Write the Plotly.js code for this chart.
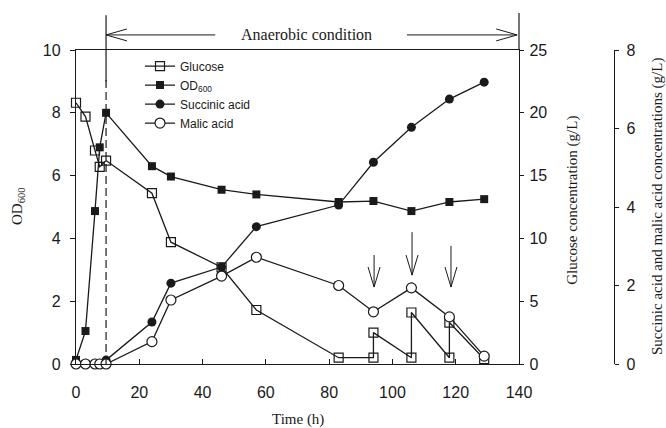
<!DOCTYPE html>
<html><head><meta charset="utf-8">
<script src="https://cdn.plot.ly/plotly-3.0.1.min.js"></script>
<style>body{margin:0;background:#fff}</style>
</head><body><div id="chart" style="width:666px;height:428px"></div>
<script>
// ---- data ----
const glucoseTime = [0, 3, 6, 7.5, 9.5, 24, 30, 46, 57, 83, 94, 94, 106, 106, 118, 118, 129];
const glucoseConc = [20.8, 19.7, 17.0, 15.7, 16.2, 13.6, 9.7, 7.7, 4.3, 0.5, 0.5, 2.5, 0.5, 4.1, 0.5, 3.3, 0.4];
const odTime = [0, 3, 6, 7.5, 9.5, 24, 30, 46, 57, 83, 94, 106, 118, 129];
const odValue = [0.13, 1.05, 4.87, 6.9, 8.0, 6.3, 5.97, 5.55, 5.4, 5.16, 5.19, 4.87, 5.16, 5.25];
const acidTime = [0, 3, 6, 7.5, 9.5, 24, 30, 46, 57, 83, 94, 106, 118, 129];
const succinicConc = [0.05, 0.02, 0.02, 0.02, 0.1, 1.07, 2.06, 2.47, 3.5, 4.05, 5.14, 6.03, 6.75, 7.18];
const malicConc = [0, 0, 0, 0, 0, 0.57, 1.63, 2.24, 2.72, 2.0, 1.33, 1.94, 1.2, 0.2];
const feedTimes = [94.2, 106.2, 118.5];        // down arrows (glucose feeding)
const feedArrowTop = [3.47, 4.2, 3.76];        // OD-axis units
const feedArrowTip = [2.45, 2.83, 2.45];
const switchTime = 9.5;                        // start of anaerobic condition
const xTicks = [0, 20, 40, 60, 80, 100, 120, 140];

// ---- styling ----
const ink = '#1a1a1a';
const xEnd = 443 / 550;              // x-domain end (paper)
const tToPaper = t => t / 140 * xEnd;
const tickFont = {family: 'Liberation Sans, Arial, sans-serif', size: 16, color: ink};
const serif = 'Liberation Serif, Times New Roman, serif';

const lineStyle = {color: ink, width: 1.3};
const traces = [
  {x: glucoseTime, y: glucoseConc, name: 'Glucose', yaxis: 'y2', mode: 'lines+markers',
   line: lineStyle, marker: {symbol: 'square-open', size: 9, color: ink, line: {width: 1.2}}, cliponaxis: false},
  {x: odTime, y: odValue, name: 'OD<sub>600</sub>', yaxis: 'y', mode: 'lines+markers',
   line: lineStyle, marker: {symbol: 'square', size: 8, color: ink}, cliponaxis: false},
  {x: acidTime, y: succinicConc, name: 'Succinic acid', yaxis: 'y3', mode: 'lines+markers',
   line: lineStyle, marker: {symbol: 'circle', size: 9, color: ink}, cliponaxis: false},
  {x: acidTime, y: malicConc, name: 'Malic acid', yaxis: 'y3', mode: 'lines+markers',
   line: lineStyle, marker: {symbol: 'circle', size: 10, color: '#fff', line: {color: ink, width: 1.2}}, cliponaxis: false}
];

const shapes = [];
// dashed switch line inside plot, solid part above
shapes.push({type: 'line', xref: 'x', yref: 'y', x0: switchTime, x1: switchTime, y0: 0, y1: 9.1,
  line: {color: ink, width: 1.2, dash: '8px,4px'}});
shapes.push({type: 'line', xref: 'paper', yref: 'paper', x0: tToPaper(switchTime), x1: tToPaper(switchTime),
  y0: 0.9, y1: 1.111, line: {color: ink, width: 1.2}});
// right axis extension above plot
shapes.push({type: 'line', xref: 'paper', yref: 'paper', x0: xEnd, x1: xEnd, y0: 1, y1: 1.118,
  line: {color: ink, width: 1.2}});
// anaerobic arrows
const arrowY = 1.048, wingDy = 0.019;
const leftTip = tToPaper(switchTime), leftEnd = tToPaper(44), leftWing = tToPaper(switchTime + 6.6);
shapes.push({type: 'path', xref: 'paper', yref: 'paper', line: {color: ink, width: 1},
  path: `M ${leftEnd} ${arrowY} L ${leftTip} ${arrowY} M ${leftWing} ${arrowY + wingDy} L ${leftTip} ${arrowY} L ${leftWing} ${arrowY - wingDy}`});
const rightTip = tToPaper(139.4), rightStart = tToPaper(104.6), rightWing = tToPaper(139.4 - 6.6);
shapes.push({type: 'path', xref: 'paper', yref: 'paper', line: {color: ink, width: 1},
  path: `M ${rightStart} ${arrowY} L ${rightTip} ${arrowY} M ${rightWing} ${arrowY + wingDy} L ${rightTip} ${arrowY} L ${rightWing} ${arrowY - wingDy}`});
// feeding arrows
feedTimes.forEach((t, i) => {
  const top = feedArrowTop[i], tip = feedArrowTip[i];
  shapes.push({type: 'path', xref: 'x', yref: 'y', line: {color: ink, width: 1},
    path: `M ${t} ${top} L ${t} ${tip} M ${t - 1.9} ${tip + 0.64} L ${t} ${tip} L ${t + 1.9} ${tip + 0.64}`});
});

const annotations = [
  {text: 'Anaerobic condition', xref: 'paper', yref: 'paper', x: tToPaper(73), y: arrowY,
   showarrow: false, font: {family: serif, size: 16, color: ink}, xanchor: 'center', yanchor: 'middle'},
  {text: 'Time (h)', xref: 'paper', yref: 'paper', x: tToPaper(70), y: -0.178,
   showarrow: false, font: {family: serif, size: 15, color: ink}, xanchor: 'center', yanchor: 'middle'},
  {text: 'OD<sub>600</sub>', xref: 'paper', yref: 'paper', x: (18 - 76) / 550, y: 0.5, textangle: -90,
   showarrow: false, font: {family: serif, size: 15, color: ink}, xanchor: 'center', yanchor: 'middle'},
  {text: 'Glucose concentration (g/L)', xref: 'paper', yref: 'paper', x: (573 - 76) / 550, y: 0.52, textangle: -90,
   showarrow: false, font: {family: serif, size: 15, color: ink}, xanchor: 'center', yanchor: 'middle'},
  {text: 'Succinic acid and malic acid concentrations (g/L)', xref: 'paper', yref: 'paper', x: (657 - 76) / 550, y: 0.5, textangle: -90,
   showarrow: false, font: {family: serif, size: 15, color: ink}, xanchor: 'center', yanchor: 'middle'}
];

const axisBase = {showgrid: false, zeroline: false, showline: true, linecolor: ink, linewidth: 1.2,
  tickcolor: ink, tickfont: tickFont};

const layout = {
  width: 666, height: 428,
  margin: {l: 76, r: 40, t: 50, b: 64},
  paper_bgcolor: '#fff', plot_bgcolor: '#fff',
  showlegend: true,
  legend: {x: (140 - 76) / 550, y: 0.995, xanchor: 'left', yanchor: 'top', bgcolor: 'rgba(0,0,0,0)',
    font: {family: 'Liberation Sans, Arial, sans-serif', size: 12, color: ink}, tracegroupgap: 0, itemwidth: 30},
  xaxis: Object.assign({}, axisBase, {domain: [0, xEnd], range: [0, 140], tickvals: xTicks,
    ticks: 'inside', ticklen: 5, mirror: true, ticklabelstandoff: 14}),
  yaxis: Object.assign({}, axisBase, {range: [0, 10], dtick: 2, ticks: 'outside', ticklen: 5, ticklabelstandoff: 6}),
  yaxis2: Object.assign({}, axisBase, {range: [0, 25], dtick: 5, overlaying: 'y', side: 'right', anchor: 'x',
    ticks: 'outside', ticklen: 4, ticklabelstandoff: 2}),
  yaxis3: Object.assign({}, axisBase, {range: [0, 8], dtick: 2, overlaying: 'y', side: 'right', anchor: 'free',
    position: (614 - 76) / 550, ticks: 'outside', ticklen: 4, ticklabelstandoff: 4}),
  shapes: shapes,
  annotations: annotations
};

Plotly.newPlot('chart', traces, layout, {staticPlot: true, displayModeBar: false});
</script></body></html>
